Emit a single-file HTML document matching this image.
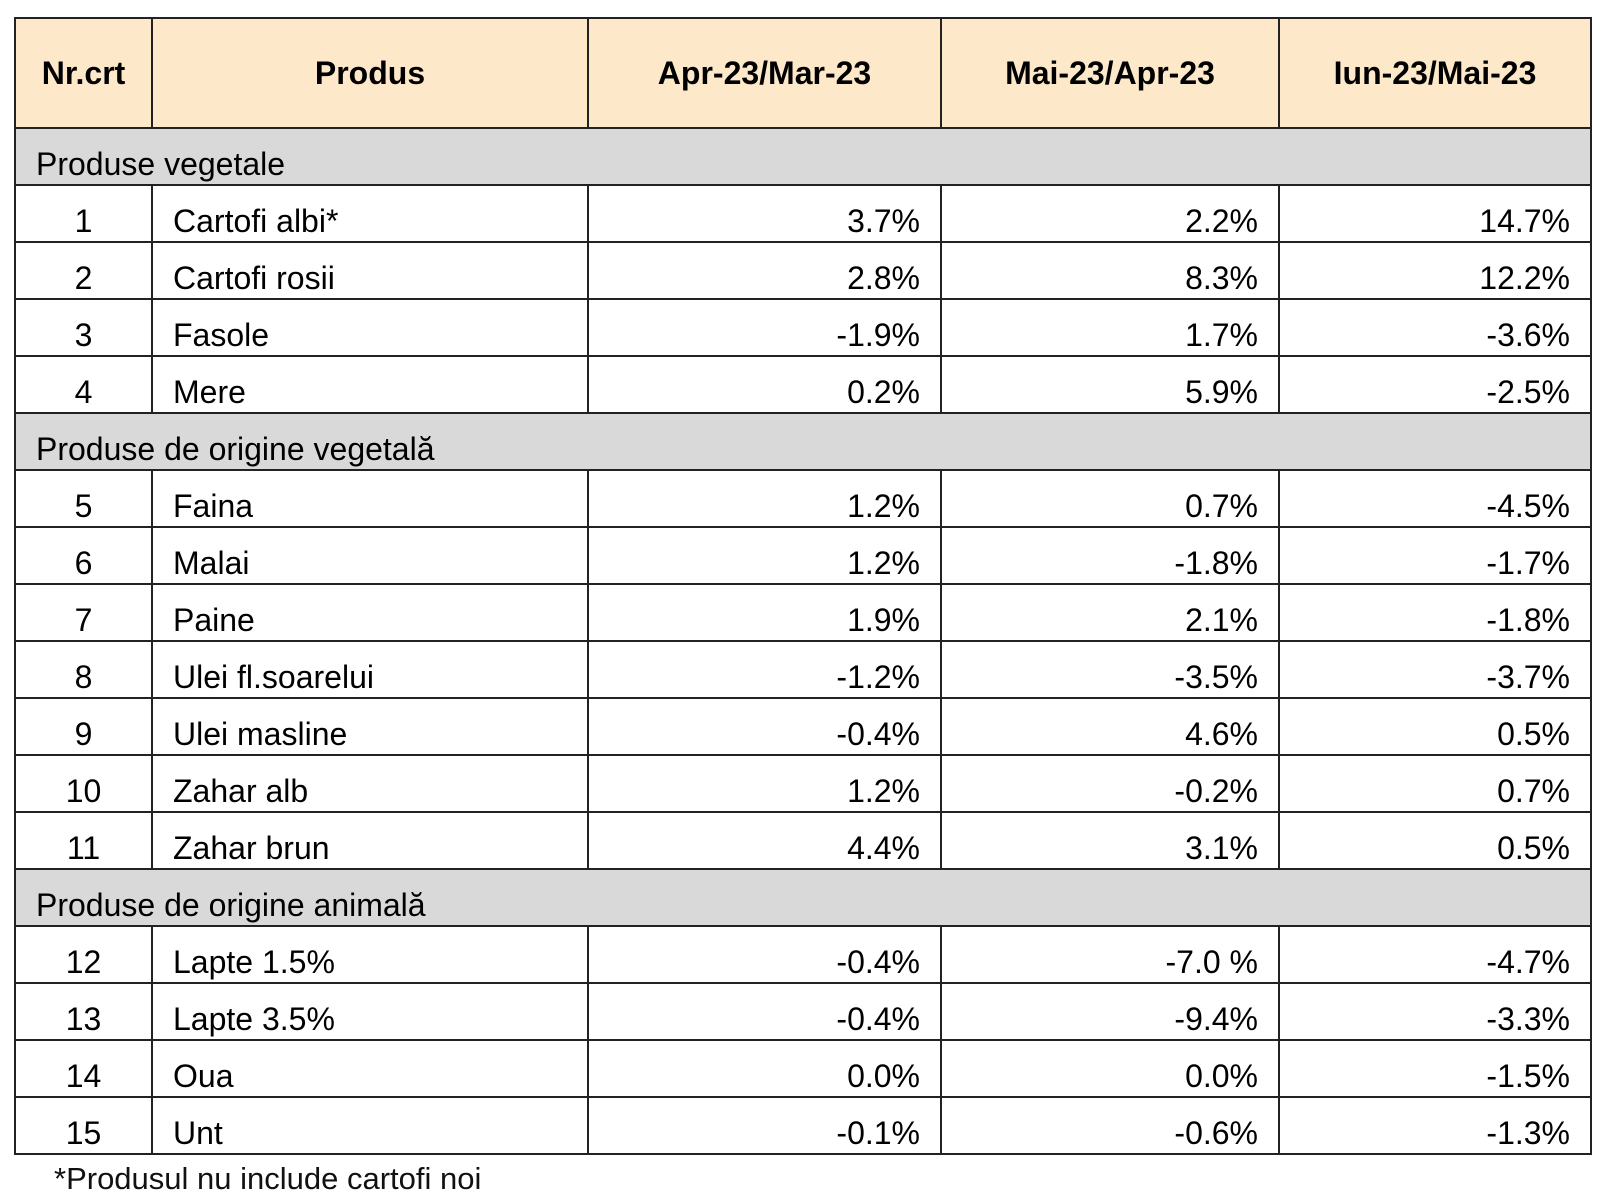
<!DOCTYPE html>
<html><head><meta charset="utf-8"><style>
body{margin:0;width:1614px;height:1201px;background:#fff;font-family:"Liberation Sans",sans-serif;position:relative;overflow:hidden}
table{position:absolute;left:14px;top:17px;border-collapse:collapse;table-layout:fixed;width:1576px}
td,th{border:2px solid #222;font-size:32px;color:#000;padding:0 20px;white-space:nowrap;overflow:hidden}
th{background:#fde9c9;height:108px;font-weight:bold;text-align:center}
td{height:54px;vertical-align:bottom;padding-bottom:1px}
tr.grp td{background:#d9d9d9;text-align:left}
td.n{text-align:center}
td.v{text-align:right}
#note{position:absolute;left:54px;top:1161px;font-size:31px;color:#111}
</style></head><body>
<table>
<colgroup><col style="width:137px"><col style="width:436px"><col style="width:353px"><col style="width:338px"><col style="width:312px"></colgroup>
<tr><th>Nr.crt</th><th>Produs</th><th>Apr-23/Mar-23</th><th>Mai-23/Apr-23</th><th>Iun-23/Mai-23</th></tr>
<tr class="grp"><td colspan="5">Produse vegetale</td></tr>
<tr><td class="n">1</td><td>Cartofi albi*</td><td class="v">3.7%</td><td class="v">2.2%</td><td class="v">14.7%</td></tr>
<tr><td class="n">2</td><td>Cartofi rosii</td><td class="v">2.8%</td><td class="v">8.3%</td><td class="v">12.2%</td></tr>
<tr><td class="n">3</td><td>Fasole</td><td class="v">-1.9%</td><td class="v">1.7%</td><td class="v">-3.6%</td></tr>
<tr><td class="n">4</td><td>Mere</td><td class="v">0.2%</td><td class="v">5.9%</td><td class="v">-2.5%</td></tr>
<tr class="grp"><td colspan="5">Produse de origine vegetală</td></tr>
<tr><td class="n">5</td><td>Faina</td><td class="v">1.2%</td><td class="v">0.7%</td><td class="v">-4.5%</td></tr>
<tr><td class="n">6</td><td>Malai</td><td class="v">1.2%</td><td class="v">-1.8%</td><td class="v">-1.7%</td></tr>
<tr><td class="n">7</td><td>Paine</td><td class="v">1.9%</td><td class="v">2.1%</td><td class="v">-1.8%</td></tr>
<tr><td class="n">8</td><td>Ulei fl.soarelui</td><td class="v">-1.2%</td><td class="v">-3.5%</td><td class="v">-3.7%</td></tr>
<tr><td class="n">9</td><td>Ulei masline</td><td class="v">-0.4%</td><td class="v">4.6%</td><td class="v">0.5%</td></tr>
<tr><td class="n">10</td><td>Zahar alb</td><td class="v">1.2%</td><td class="v">-0.2%</td><td class="v">0.7%</td></tr>
<tr><td class="n">11</td><td>Zahar brun</td><td class="v">4.4%</td><td class="v">3.1%</td><td class="v">0.5%</td></tr>
<tr class="grp"><td colspan="5">Produse de origine animală</td></tr>
<tr><td class="n">12</td><td>Lapte 1.5%</td><td class="v">-0.4%</td><td class="v">-7.0 %</td><td class="v">-4.7%</td></tr>
<tr><td class="n">13</td><td>Lapte 3.5%</td><td class="v">-0.4%</td><td class="v">-9.4%</td><td class="v">-3.3%</td></tr>
<tr><td class="n">14</td><td>Oua</td><td class="v">0.0%</td><td class="v">0.0%</td><td class="v">-1.5%</td></tr>
<tr><td class="n">15</td><td>Unt</td><td class="v">-0.1%</td><td class="v">-0.6%</td><td class="v">-1.3%</td></tr>
</table>
<div id="note">*Produsul nu include cartofi noi</div>
</body></html>
